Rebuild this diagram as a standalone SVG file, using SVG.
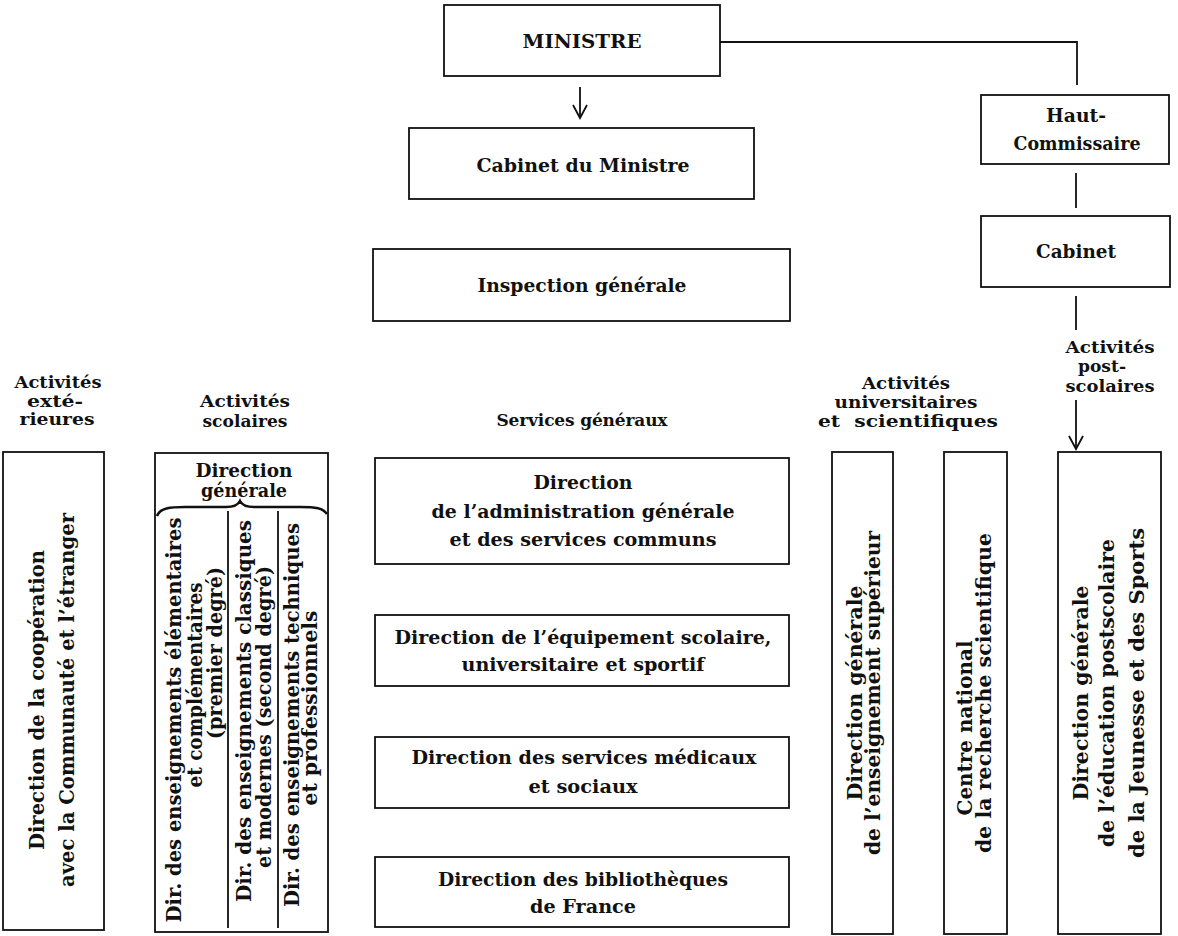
<svg xmlns="http://www.w3.org/2000/svg" width="1178" height="936" viewBox="0 0 1178 936">
<style>
.box{fill:#fff;stroke:#111;stroke-width:1.8}
.ln{fill:none;stroke:#111;stroke-width:1.8}
.t{font-family:"DejaVu Serif","Liberation Serif",serif;font-weight:bold;font-size:19px;fill:#111;text-anchor:middle}
.lb{font-size:17px}
.vt{font-size:20px}
</style>
<defs>
<marker id="v" viewBox="-16 -9 18 18" refX="0" refY="0" markerWidth="18" markerHeight="18" markerUnits="userSpaceOnUse" orient="auto">
<path d="M-13,-7 L0,0 L-13,7" fill="none" stroke="#111" stroke-width="1.8"/>
</marker>
</defs>
<rect width="1178" height="936" fill="#fff"/>

<g id="connectors">
<polyline class="ln" points="720,42 1077,42 1077,85"/>
<line class="ln" x1="580" y1="87" x2="580" y2="118" marker-end="url(#v)"/>
<line class="ln" x1="1076" y1="173" x2="1076" y2="208"/>
<line class="ln" x1="1076" y1="296" x2="1076" y2="330"/>
<line class="ln" x1="1076" y1="400" x2="1076" y2="449" marker-end="url(#v)"/>
</g>

<g id="ministre">
<rect class="box" x="444" y="5" width="276" height="71"/>
<text class="t" x="582" y="48" textLength="119" lengthAdjust="spacingAndGlyphs">MINISTRE</text>
</g>
<g id="cabinet-ministre">
<rect class="box" x="409" y="128" width="345" height="71"/>
<text class="t" x="583" y="172" textLength="213" lengthAdjust="spacingAndGlyphs">Cabinet du Ministre</text>
</g>
<g id="inspection">
<rect class="box" x="373" y="249" width="417" height="72"/>
<text class="t" x="582" y="292" textLength="209" lengthAdjust="spacingAndGlyphs">Inspection générale</text>
</g>
<g id="haut-commissaire">
<rect class="box" x="981" y="95" width="188" height="69"/>
<text class="t" x="1076" y="122" textLength="60" lengthAdjust="spacingAndGlyphs">Haut-</text>
<text class="t" x="1077" y="150" textLength="127" lengthAdjust="spacingAndGlyphs">Commissaire</text>
</g>
<g id="cabinet-hc">
<rect class="box" x="981" y="216" width="189" height="71"/>
<text class="t" x="1076" y="258" textLength="80" lengthAdjust="spacingAndGlyphs">Cabinet</text>
</g>

<g id="labels">
<text class="t lb" x="58" y="388" textLength="87" lengthAdjust="spacingAndGlyphs">Activités</text>
<text class="t lb" x="55" y="406.5" textLength="56" lengthAdjust="spacingAndGlyphs">exté-</text>
<text class="t lb" x="57" y="425" textLength="75" lengthAdjust="spacingAndGlyphs">rieures</text>
<text class="t lb" x="245" y="407" textLength="90" lengthAdjust="spacingAndGlyphs">Activités</text>
<text class="t lb" x="245" y="427" textLength="85" lengthAdjust="spacingAndGlyphs">scolaires</text>
<text class="t lb" x="582" y="426" textLength="171" lengthAdjust="spacing">Services généraux</text>
<text class="t lb" x="906" y="389" textLength="88" lengthAdjust="spacingAndGlyphs">Activités</text>
<text class="t lb" x="906" y="408" textLength="143" lengthAdjust="spacingAndGlyphs">universitaires</text>
<text class="t lb" x="908" y="427" textLength="180" lengthAdjust="spacingAndGlyphs" word-spacing="6">et scientifiques</text>
<text class="t lb" x="1110" y="353" textLength="89" lengthAdjust="spacingAndGlyphs">Activités</text>
<text class="t lb" x="1102" y="372" textLength="48" lengthAdjust="spacingAndGlyphs">post-</text>
<text class="t lb" x="1110" y="392" textLength="89" lengthAdjust="spacingAndGlyphs">scolaires</text>
</g>

<g id="dir-cooperation">
<rect class="box" x="3" y="452" width="101" height="478"/>
<text class="t vt" transform="translate(44,700) rotate(-90)" textLength="300" lengthAdjust="spacingAndGlyphs">Direction de la coopération</text>
<text class="t vt" transform="translate(74,700) rotate(-90)" textLength="374" lengthAdjust="spacingAndGlyphs">avec la Communauté et l’étranger</text>
</g>

<g id="direction-generale-scolaire">
<rect class="box" x="155" y="453" width="173" height="479"/>
<text class="t" x="244" y="477" textLength="97" lengthAdjust="spacingAndGlyphs">Direction</text>
<text class="t" x="244" y="497" textLength="86" lengthAdjust="spacingAndGlyphs">générale</text>
<path d="M157,516 C160,508 170,507 185,507 L226,507 C234,507 238,505 240,501 C242,505 246,507 254,507 L300,507 C316,507 323,508 327,514" fill="none" stroke="#111" stroke-width="2.6"/>
<line class="ln" x1="228" y1="511" x2="228" y2="928"/>
<line class="ln" x1="278" y1="511" x2="278" y2="928"/>
</g>
<g id="dir-premier-degre">
<text class="t vt" transform="translate(181,720) rotate(-90)" textLength="405" lengthAdjust="spacingAndGlyphs">Dir. des enseignements élémentaires</text>
<text class="t vt" transform="translate(202,685) rotate(-90)" textLength="205" lengthAdjust="spacingAndGlyphs">et complémentaires</text>
<text class="t vt" transform="translate(222,653) rotate(-90)" textLength="172" lengthAdjust="spacingAndGlyphs">(premier degré)</text>
</g>
<g id="dir-second-degre">
<text class="t vt" transform="translate(251,711) rotate(-90)" textLength="382" lengthAdjust="spacingAndGlyphs">Dir. des enseignements classiques</text>
<text class="t vt" transform="translate(271,717) rotate(-90)" textLength="302" lengthAdjust="spacingAndGlyphs">et modernes (second degré)</text>
</g>
<g id="dir-techniques">
<text class="t vt" transform="translate(299,715) rotate(-90)" textLength="384" lengthAdjust="spacingAndGlyphs">Dir. des enseignements techniques</text>
<text class="t vt" transform="translate(317,708) rotate(-90)" textLength="195" lengthAdjust="spacingAndGlyphs">et professionnels</text>
</g>

<g id="dir-administration">
<rect class="box" x="375" y="458" width="414" height="106"/>
<text class="t" x="583" y="489" textLength="99" lengthAdjust="spacingAndGlyphs">Direction</text>
<text class="t" x="583" y="518" textLength="303" lengthAdjust="spacingAndGlyphs">de l’administration générale</text>
<text class="t" x="583" y="546" textLength="267" lengthAdjust="spacingAndGlyphs">et des services communs</text>
</g>
<g id="dir-equipement">
<rect class="box" x="375" y="615" width="414" height="71"/>
<text class="t" x="583" y="644" textLength="377" lengthAdjust="spacingAndGlyphs">Direction de l’équipement scolaire,</text>
<text class="t" x="583" y="671" textLength="243" lengthAdjust="spacingAndGlyphs">universitaire et sportif</text>
</g>
<g id="dir-medicaux">
<rect class="box" x="375" y="737" width="414" height="71"/>
<text class="t" x="584" y="764" textLength="345" lengthAdjust="spacingAndGlyphs">Direction des services médicaux</text>
<text class="t" x="583" y="793" textLength="109" lengthAdjust="spacingAndGlyphs">et sociaux</text>
</g>
<g id="dir-bibliotheques">
<rect class="box" x="375" y="857" width="414" height="70"/>
<text class="t" x="583" y="886" textLength="290" lengthAdjust="spacingAndGlyphs">Direction des bibliothèques</text>
<text class="t" x="583" y="913" textLength="106" lengthAdjust="spacingAndGlyphs">de France</text>
</g>

<g id="dir-enseignement-superieur">
<rect class="box" x="832" y="452" width="61" height="482"/>
<text class="t vt" transform="translate(862,693) rotate(-90)" textLength="215" lengthAdjust="spacingAndGlyphs">Direction générale</text>
<text class="t vt" transform="translate(880,693) rotate(-90)" textLength="324" lengthAdjust="spacingAndGlyphs">de l’enseignement supérieur</text>
</g>
<g id="cnrs">
<rect class="box" x="944" y="452" width="63" height="482"/>
<text class="t vt" transform="translate(972,728) rotate(-90)" textLength="175" lengthAdjust="spacingAndGlyphs">Centre national</text>
<text class="t vt" transform="translate(991,693) rotate(-90)" textLength="320" lengthAdjust="spacingAndGlyphs">de la recherche scientifique</text>
</g>
<g id="dir-postscolaire">
<rect class="box" x="1058" y="452" width="103" height="482"/>
<text class="t vt" transform="translate(1088,693) rotate(-90)" textLength="215" lengthAdjust="spacingAndGlyphs">Direction générale</text>
<text class="t vt" transform="translate(1114,693) rotate(-90)" textLength="308" lengthAdjust="spacingAndGlyphs">de l’éducation postscolaire</text>
<text class="t vt" transform="translate(1144,693) rotate(-90)" textLength="330" lengthAdjust="spacingAndGlyphs">de la Jeunesse et des Sports</text>
</g>
</svg>
